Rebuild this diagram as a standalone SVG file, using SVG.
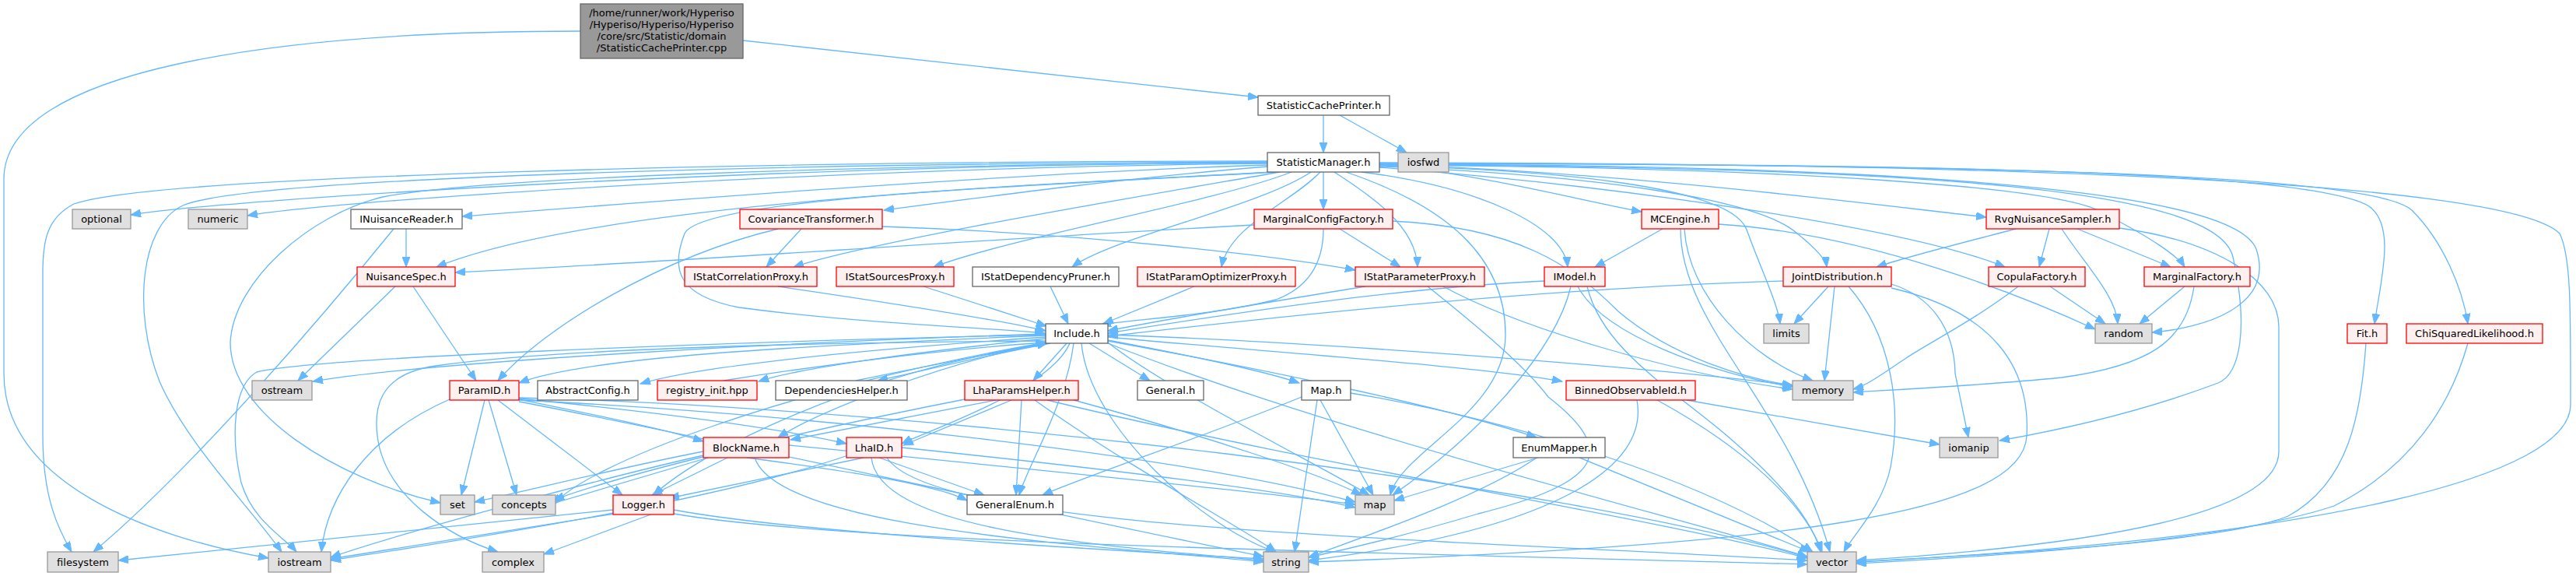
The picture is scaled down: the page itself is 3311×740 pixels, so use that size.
<svg xmlns="http://www.w3.org/2000/svg" width="3311" height="740" viewBox="0 0 3311 740">
<style>
text{font-family:"DejaVu Sans","Liberation Sans",sans-serif;font-size:13px;fill:#000;text-anchor:middle}
.w rect{fill:#fff;stroke:#666;stroke-width:1.3}
.r rect{fill:#fff0f0;stroke:#f00;stroke-width:1.3}
.g rect{fill:#e0e0e0;stroke:#999;stroke-width:1.3}
.k rect{fill:#999;stroke:#666;stroke-width:1.3}
#edges path{fill:none;stroke:#63b8ff;stroke-width:1.3;marker-end:url(#ah)}
</style>
<defs>
<marker id="ah" markerUnits="userSpaceOnUse" markerWidth="14" markerHeight="10" refX="13" refY="5" orient="auto"><path d="M0,0 L13,5 L0,10 z" fill="#63b8ff" stroke="#63b8ff"/></marker>
</defs>
<rect width="3311" height="740" fill="#fff"/>
<g id="edges">
<path d="M955,52 L1617,125"/>
<path d="M746,40 C350,40 5,90 5,230 L5,480 C5,620 190,690 345,717"/>
<path d="M1701,148 L1701,196"/>
<path d="M1722,148 L1808,196"/>
<path d="M1629,207 C1000,207 200,225 95,262 C60,280 55,310 55,350 L55,560 C55,640 75,680 92,709"/>
<path d="M1629,209 C1000,212 300,255 168,276"/>
<path d="M1629,210 C1100,215 450,255 318,277"/>
<path d="M1629,208 C1000,210 320,228 235,264 C180,290 170,400 205,490 C240,570 320,650 362,709"/>
<path d="M1629,212 C1300,222 800,262 594,278"/>
<path d="M1629,209 C1100,212 620,228 492,253 C400,275 300,360 296,440 C296,530 430,615 566,646"/>
<path d="M1635,221 C1400,235 780,255 561,343"/>
<path d="M1629,214 C1450,228 1250,255 1136,270"/>
<path d="M1645,221 C1450,255 1120,310 1020,343"/>
<path d="M1660,221 C1560,260 1300,305 1200,343"/>
<path d="M1685,221 C1620,265 1430,305 1378,343"/>
<path d="M1640,221 C1300,240 900,255 880,300 C862,345 870,380 950,395 C1100,415 1250,420 1343,428"/>
<path d="M1697,221 C1660,260 1580,290 1570,343"/>
<path d="M1701,221 L1701,269"/>
<path d="M1715,221 C1760,250 1820,290 1822,343"/>
<path d="M1730,221 C1860,265 1935,330 1935,430 C1935,530 1800,580 1787,636"/>
<path d="M1750,221 C1900,240 2010,290 2015,343"/>
<path d="M1773,212 C1900,222 2050,262 2110,272"/>
<path d="M1773,213 C2000,218 2225,240 2245,295 C2265,350 2285,390 2288,416"/>
<path d="M1773,214 C2050,225 2260,255 2310,300 C2335,320 2347,335 2348,343"/>
<path d="M1773,211 C2100,222 2400,262 2553,279"/>
<path d="M1773,215 C2100,240 2460,295 2577,343"/>
<path d="M1773,212 C2300,215 2660,240 2705,275 C2765,305 2800,330 2808,343"/>
<path d="M1773,211 C2400,212 2870,240 2900,320 C2925,395 2830,422 2766,427"/>
<path d="M1773,210 C2600,210 2980,225 3045,265 C3080,290 3060,360 3052,416"/>
<path d="M1773,210 C2600,211 3050,225 3100,270 C3140,310 3165,370 3172,416"/>
<path d="M1773,209 C2700,210 3230,240 3290,300 C3305,330 3304,400 3304,520 C3304,610 3000,690 2386,722"/>
<path d="M1773,212 C2500,214 2850,245 2870,330 C2890,420 2880,480 2851,492 C2750,530 2650,552 2570,566"/>
<path d="M522,294 L522,343"/>
<path d="M506,294 C420,400 250,600 120,709"/>
<path d="M508,368 L383,489"/>
<path d="M531,368 L612,489"/>
<path d="M1030,294 L985,343"/>
<path d="M1134,291 C1400,300 1650,330 1742,347"/>
<path d="M1000,294 C850,330 700,420 640,489"/>
<path d="M1612,289 C1300,305 900,335 585,350"/>
<path d="M1722,294 L1800,343"/>
<path d="M1701,294 C1701,340 1680,370 1640,385 C1560,405 1460,410 1415,417"/>
<path d="M1790,284 C1950,292 2020,340 2080,400 C2150,460 2250,488 2304,495"/>
<path d="M1000,368 C1150,390 1280,410 1344,425"/>
<path d="M1187,368 L1345,419"/>
<path d="M1350,368 L1373,416"/>
<path d="M1535,368 L1418,416"/>
<path d="M1755,368 C1650,385 1500,410 1424,425"/>
<path d="M1855,368 C1950,420 2150,480 2304,500"/>
<path d="M1835,368 C1900,420 1960,470 1990,510 C2080,580 2060,620 1900,660 C1800,690 1720,708 1682,716"/>
<path d="M1985,361 C1800,370 1600,400 1424,428"/>
<path d="M2019,368 C2000,450 1900,560 1790,636"/>
<path d="M2028,368 C2060,430 2200,480 2304,497"/>
<path d="M2040,368 C2060,450 2150,500 2220,560 C2290,620 2330,670 2340,709"/>
<path d="M2137,294 L2050,343"/>
<path d="M2165,294 C2170,380 2250,460 2330,489"/>
<path d="M2160,294 C2160,420 2300,520 2352,709"/>
<path d="M2209,288 C2400,300 2600,380 2693,423"/>
<path d="M2292,361 C2000,370 1700,400 1424,432"/>
<path d="M2350,368 L2306,416"/>
<path d="M2358,368 L2345,489"/>
<path d="M2376,368 C2430,430 2445,520 2430,600 C2420,650 2380,690 2370,709"/>
<path d="M2431,365 C2480,380 2512,420 2513,480 L2530,562"/>
<path d="M2431,370 C2560,400 2610,470 2605,560 C2600,660 2300,700 1682,722"/>
<path d="M2591,294 C2530,310 2450,330 2412,343"/>
<path d="M2634,294 L2621,343"/>
<path d="M2650,294 C2680,340 2720,380 2722,416"/>
<path d="M2670,294 L2790,343"/>
<path d="M2724,293 C2850,310 2929,360 2929,420 L2929,580 C2929,660 2700,700 2386,720"/>
<path d="M2635,368 L2706,416"/>
<path d="M2594,368 C2540,410 2480,440 2450,460 C2420,480 2400,495 2382,500"/>
<path d="M2808,368 L2750,416"/>
<path d="M2820,368 C2810,440 2760,470 2650,485 C2550,495 2450,500 2382,504"/>
<path d="M3041,441 C3035,530 3020,620 2941,663 C2850,700 2500,715 2386,722"/>
<path d="M3172,441 C3150,520 3100,600 3000,650 C2850,700 2500,718 2386,724"/>
<path d="M1344,429 C1000,440 550,465 402,490"/>
<path d="M1344,431 C1000,445 750,460 667,492"/>
<path d="M1344,433 C1100,450 900,470 823,493"/>
<path d="M1344,435 C1150,455 1020,475 975,490"/>
<path d="M1350,441 C1250,460 1180,478 1128,489"/>
<path d="M1100,489 C1200,468 1290,452 1346,441"/>
<path d="M930,489 C1100,462 1250,446 1344,440"/>
<path d="M1371,441 L1328,489"/>
<path d="M1400,441 L1478,489"/>
<path d="M1424,437 C1520,455 1620,475 1670,492"/>
<path d="M1424,433 C1600,450 1900,470 2008,490"/>
<path d="M1424,430 C1700,440 2100,470 2304,495"/>
<path d="M1424,438 C1600,470 1850,520 1975,562"/>
<path d="M1424,440 C1500,500 1700,600 1760,636"/>
<path d="M1380,441 C1370,520 1320,600 1310,636"/>
<path d="M1375,441 C1350,500 1200,550 1159,570"/>
<path d="M1344,440 C1200,470 1050,530 1000,562"/>
<path d="M1344,441 C1100,480 900,580 840,636"/>
<path d="M1344,440 C1000,500 750,600 712,648"/>
<path d="M1344,430 C900,440 400,460 330,478 C300,495 296,560 310,620 C325,670 365,690 381,709"/>
<path d="M1344,438 C1000,440 700,450 560,470 C490,480 480,520 485,560 C495,640 580,690 640,709"/>
<path d="M1390,441 C1400,550 1550,680 1640,709"/>
<path d="M1424,441 C1700,550 2100,650 2323,715"/>
<path d="M623,514 L593,636"/>
<path d="M628,514 L664,636"/>
<path d="M640,514 L800,636"/>
<path d="M578,513 C470,560 420,640 413,709"/>
<path d="M667,513 C750,530 850,550 904,567"/>
<path d="M667,512 C850,530 1000,550 1088,570"/>
<path d="M667,514 C1000,530 1500,580 1742,645"/>
<path d="M667,511 C1200,525 2000,620 2323,716"/>
<path d="M667,516 C900,560 1300,650 1624,715"/>
<path d="M1280,514 L1016,565"/>
<path d="M1300,514 L1161,572"/>
<path d="M1313,514 L1306,636"/>
<path d="M1330,514 C1450,600 1600,680 1640,709"/>
<path d="M1346,514 C1700,600 2100,660 2323,717"/>
<path d="M1380,514 C1550,560 1700,610 1750,636"/>
<path d="M1245,512 C1000,560 800,610 712,642"/>
<path d="M960,588 C1050,600 1200,620 1243,643"/>
<path d="M935,588 L838,636"/>
<path d="M910,588 L700,650"/>
<path d="M904,580 C800,600 680,630 610,645"/>
<path d="M1014,572 C1300,600 1600,630 1742,648"/>
<path d="M904,585 C750,620 500,690 425,716"/>
<path d="M1090,585 C900,650 550,700 425,720"/>
<path d="M1110,588 L860,640"/>
<path d="M1130,588 L1265,636"/>
<path d="M1159,575 C1400,600 1650,630 1742,652"/>
<path d="M1120,588 C1130,680 1400,700 1624,720"/>
<path d="M1140,588 C1200,680 1800,690 2323,720"/>
<path d="M970,588 C1000,680 1400,700 1624,722"/>
<path d="M866,650 L699,712"/>
<path d="M788,655 L152,720"/>
<path d="M790,660 L425,718"/>
<path d="M866,655 C1000,680 1300,700 1624,718"/>
<path d="M866,660 C1100,700 1800,710 2323,725"/>
<path d="M1697,514 L1765,636"/>
<path d="M1693,514 L1664,709"/>
<path d="M1736,505 C1950,540 2200,620 2330,709"/>
<path d="M1673,510 C1550,560 1400,610 1340,636"/>
<path d="M1977,588 L1792,643"/>
<path d="M1975,588 C1900,640 1750,690 1682,716"/>
<path d="M2030,588 L2326,709"/>
<path d="M2104,514 C2120,600 2000,680 1682,720"/>
<path d="M2130,514 C2250,580 2320,650 2342,709"/>
<path d="M2168,514 L2493,571"/>
</g>
<g id="n_root" class="k"><rect x="746" y="5" width="209" height="70"/><text x="850.5" y="21">/home/runner/work/Hyperiso</text><text x="850.5" y="36">/Hyperiso/Hyperiso/Hyperiso</text><text x="850.5" y="51">/core/src/Statistic/domain</text><text x="850.5" y="66">/StatisticCachePrinter.cpp</text></g>
<g id="n_scp" class="w"><rect x="1617" y="123" width="169" height="25"/><text x="1701.5" y="140">StatisticCachePrinter.h</text></g>
<g id="n_sm" class="w"><rect x="1629" y="196" width="144" height="25"/><text x="1701" y="213">StatisticManager.h</text></g>
<g id="n_iosfwd" class="g"><rect x="1797" y="196" width="65" height="25"/><text x="1829.5" y="213">iosfwd</text></g>
<g id="n_optional" class="g"><rect x="93" y="269" width="75" height="25"/><text x="130.5" y="286">optional</text></g>
<g id="n_numeric" class="g"><rect x="242" y="269" width="76" height="25"/><text x="280" y="286">numeric</text></g>
<g id="n_inr" class="w"><rect x="451" y="269" width="143" height="25"/><text x="522.5" y="286">INuisanceReader.h</text></g>
<g id="n_cov" class="r"><rect x="951" y="269" width="183" height="25"/><text x="1042.5" y="286">CovarianceTransformer.h</text></g>
<g id="n_mcf" class="r"><rect x="1612" y="269" width="178" height="25"/><text x="1701" y="286">MarginalConfigFactory.h</text></g>
<g id="n_mce" class="r"><rect x="2110" y="269" width="99" height="25"/><text x="2159.5" y="286">MCEngine.h</text></g>
<g id="n_rvg" class="r"><rect x="2553" y="269" width="171" height="25"/><text x="2638.5" y="286">RvgNuisanceSampler.h</text></g>
<g id="n_ns" class="r"><rect x="459" y="343" width="126" height="25"/><text x="522" y="360">NuisanceSpec.h</text></g>
<g id="n_iscorr" class="r"><rect x="880" y="343" width="170" height="25"/><text x="965" y="360">IStatCorrelationProxy.h</text></g>
<g id="n_issrc" class="r"><rect x="1075" y="343" width="151" height="25"/><text x="1150.5" y="360">IStatSourcesProxy.h</text></g>
<g id="n_isdep" class="w"><rect x="1250" y="343" width="188" height="25"/><text x="1344" y="360">IStatDependencyPruner.h</text></g>
<g id="n_ispopt" class="r"><rect x="1462" y="343" width="203" height="25"/><text x="1563.5" y="360">IStatParamOptimizerProxy.h</text></g>
<g id="n_ispp" class="r"><rect x="1742" y="343" width="166" height="25"/><text x="1825" y="360">IStatParameterProxy.h</text></g>
<g id="n_imodel" class="r"><rect x="1985" y="343" width="78" height="25"/><text x="2024" y="360">IModel.h</text></g>
<g id="n_jd" class="r"><rect x="2292" y="343" width="139" height="25"/><text x="2361.5" y="360">JointDistribution.h</text></g>
<g id="n_copula" class="r"><rect x="2556" y="343" width="124" height="25"/><text x="2618" y="360">CopulaFactory.h</text></g>
<g id="n_margfac" class="r"><rect x="2756" y="343" width="136" height="25"/><text x="2824" y="360">MarginalFactory.h</text></g>
<g id="n_include" class="w"><rect x="1344" y="416" width="80" height="25"/><text x="1384" y="433">Include.h</text></g>
<g id="n_limits" class="g"><rect x="2267" y="416" width="58" height="25"/><text x="2296" y="433">limits</text></g>
<g id="n_random" class="g"><rect x="2693" y="416" width="73" height="25"/><text x="2729.5" y="433">random</text></g>
<g id="n_fit" class="r"><rect x="3017" y="416" width="51" height="25"/><text x="3042.5" y="433">Fit.h</text></g>
<g id="n_chi" class="r"><rect x="3093" y="416" width="175" height="25"/><text x="3180.5" y="433">ChiSquaredLikelihood.h</text></g>
<g id="n_ostream" class="g"><rect x="324" y="489" width="77" height="25"/><text x="362.5" y="506">ostream</text></g>
<g id="n_paramid" class="r"><rect x="578" y="489" width="89" height="25"/><text x="622.5" y="506">ParamID.h</text></g>
<g id="n_absconf" class="w"><rect x="691" y="489" width="129" height="25"/><text x="755.5" y="506">AbstractConfig.h</text></g>
<g id="n_reg" class="r"><rect x="845" y="489" width="128" height="25"/><text x="909" y="506">registry_init.hpp</text></g>
<g id="n_dep" class="w"><rect x="997" y="489" width="169" height="25"/><text x="1081.5" y="506">DependenciesHelper.h</text></g>
<g id="n_lhap" class="r"><rect x="1240" y="489" width="146" height="25"/><text x="1313" y="506">LhaParamsHelper.h</text></g>
<g id="n_general" class="w"><rect x="1462" y="489" width="85" height="25"/><text x="1504.5" y="506">General.h</text></g>
<g id="n_maph" class="w"><rect x="1673" y="489" width="63" height="25"/><text x="1704.5" y="506">Map.h</text></g>
<g id="n_binned" class="r"><rect x="2013" y="489" width="166" height="25"/><text x="2096" y="506">BinnedObservableId.h</text></g>
<g id="n_memory" class="g"><rect x="2304" y="489" width="78" height="25"/><text x="2343" y="506">memory</text></g>
<g id="n_block" class="r"><rect x="904" y="562" width="110" height="26"/><text x="959" y="580">BlockName.h</text></g>
<g id="n_lhaid" class="r"><rect x="1088" y="562" width="71" height="26"/><text x="1123.5" y="580">LhaID.h</text></g>
<g id="n_enum" class="w"><rect x="1945" y="562" width="118" height="26"/><text x="2004" y="580">EnumMapper.h</text></g>
<g id="n_iomanip" class="g"><rect x="2493" y="562" width="75" height="26"/><text x="2530.5" y="580">iomanip</text></g>
<g id="n_set" class="g"><rect x="566" y="636" width="44" height="25"/><text x="588" y="653">set</text></g>
<g id="n_concepts" class="g"><rect x="633" y="636" width="81" height="25"/><text x="673.5" y="653">concepts</text></g>
<g id="n_logger" class="r"><rect x="788" y="636" width="78" height="25"/><text x="827" y="653">Logger.h</text></g>
<g id="n_genenum" class="w"><rect x="1243" y="636" width="123" height="25"/><text x="1304.5" y="653">GeneralEnum.h</text></g>
<g id="n_map" class="g"><rect x="1742" y="636" width="50" height="25"/><text x="1767" y="653">map</text></g>
<g id="n_fs" class="g"><rect x="61" y="709" width="91" height="26"/><text x="106.5" y="727">filesystem</text></g>
<g id="n_iostream" class="g"><rect x="345" y="709" width="80" height="26"/><text x="385" y="727">iostream</text></g>
<g id="n_complex" class="g"><rect x="620" y="709" width="79" height="26"/><text x="659.5" y="727">complex</text></g>
<g id="n_string" class="g"><rect x="1624" y="709" width="58" height="26"/><text x="1653" y="727">string</text></g>
<g id="n_vector" class="g"><rect x="2323" y="709" width="63" height="26"/><text x="2354.5" y="727">vector</text></g>
</svg>
